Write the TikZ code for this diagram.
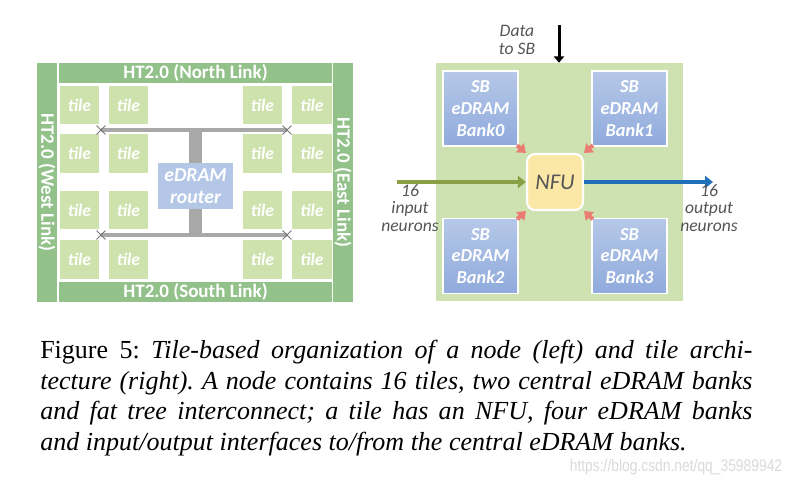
\documentclass[tikz,border=0pt]{standalone}
\usepackage{fontspec}
\setmainfont{Liberation Serif}
\newfontfamily\calib{Carlito}
\newfontfamily\wmfont{Liberation Sans}
\usetikzlibrary{arrows.meta,positioning,shapes.misc}

\definecolor{linkgreen}{RGB}{146,193,138}
\definecolor{tilegreen}{RGB}{205,226,173}
\definecolor{routerblue}{RGB}{180,199,231}
\definecolor{busgray}{RGB}{168,168,168}
\definecolor{bggreen}{RGB}{205,226,176}
\definecolor{banktop}{RGB}{182,200,232}
\definecolor{bankbot}{RGB}{143,170,220}
\definecolor{nfuyellow}{RGB}{251,231,166}
\definecolor{pinkarr}{RGB}{234,124,114}
\definecolor{ingreen}{RGB}{137,160,70}
\definecolor{outblue}{RGB}{31,112,184}
\definecolor{labgray}{RGB}{85,85,85}

\begin{document}
\begin{tikzpicture}[x=0.025cm, y=-0.025cm,
    linkbox/.style={fill=linkgreen, inner sep=0, minimum height=0.5cm, text=white,
      font={\calib\bfseries\fontsize{13.5}{15}\selectfont}},
    tilebox/.style={fill=tilegreen, inner sep=0, minimum width=0.975cm, minimum height=0.96cm,
      text=white, font={\calib\bfseries\itshape\fontsize{12.5}{14}\selectfont}},
    bus/.style={busgray, line width=0.1cm},
    stem/.style={busgray, line width=0.325cm},
    busend/.style={draw=busgray!70!black, cross out, line width=0.7pt, minimum size=0.2cm, inner sep=0},
    bank/.style={top color=banktop, bottom color=bankbot, draw=white, line width=1.2pt,
      minimum width=1.875cm, minimum height=1.875cm, inner sep=0, align=center, text=white,
      font={\calib\bfseries\itshape\fontsize{13}{15.4}\selectfont}},
    nfu/.style={fill=nfuyellow, draw=white, line width=1.5pt, rounded corners=0.2cm,
      minimum size=1.4cm, inner sep=0, text=labgray, font={\calib\itshape\fontsize{16}{18}\selectfont}},
    lab/.style={align=center, inner sep=0, text=labgray,
      font={\calib\itshape\fontsize{12.5}{12.6}\selectfont}},
    pinkarrow/.style={pinkarr, line width=0.1cm, shorten <=-0.06cm,
      -{Triangle[length=0.2cm, width=0.29cm]}},
  ]
  \fill[white] (0,0) rectangle (797,488);
  \useasboundingbox (0,0) rectangle (797,488);

  % node: links round the tiles
  \node[linkbox, minimum width=6.825cm] (north) at (195.5,73) {HT2.0 (North Link)};
  \node[linkbox, minimum width=6.825cm] (south) at (195.5,291.5) {HT2.0 (South Link)};
  \node[linkbox, minimum width=5.975cm, rotate=-90] (west) at (47,182.5) {HT2.0 (West Link)};
  \node[linkbox, minimum width=5.975cm, rotate=-90] (east) at (343,182.5) {HT2.0 (East Link)};

  \foreach \c/\x in {1/79.5,2/128.5,3/262.5,4/312}
    \foreach \r/\y in {1/105,2/153.5,3/210,4/259.5}
      \node[tilebox] (tile-\r-\c) at (\x,\y) {tile};

  \node[fill=routerblue, inner sep=0, minimum width=1.875cm, minimum height=1.15cm, align=center,
    text=white, font={\calib\bfseries\itshape\fontsize{14}{15.6}\selectfont}] (router) at (195.5,186) {eDRAM\\router};

  \coordinate (bus-tl) at (101,130);
  \coordinate (bus-tr) at (287,130);
  \coordinate (bus-bl) at (101,235);
  \coordinate (bus-br) at (287,235);
  \draw[stem] (router.north) -- (router.north |- bus-tl);
  \draw[stem] (router.south) -- (router.south |- bus-bl);
  \draw[bus] (bus-tl) -- (bus-tr);
  \draw[bus] (bus-bl) -- (bus-br);
  \foreach \p in {bus-tl,bus-tr,bus-bl,bus-br}
    \node[busend] (x-\p) at (\p) {};

  % tile: NFU and SB banks
  \node[fill=bggreen, inner sep=0, minimum width=6.175cm, minimum height=5.95cm] (tilebg) at (559.5,182) {};
  \node[bank] (bank0) at (480.5,108.5) {SB\\eDRAM\\Bank0};
  \node[bank] (bank1) at (629.5,108.5) {SB\\eDRAM\\Bank1};
  \node[bank] (bank2) at (480.5,256) {SB\\eDRAM\\Bank2};
  \node[bank] (bank3) at (629.5,256) {SB\\eDRAM\\Bank3};
  \node[nfu] (nfu) at (555,182) {NFU};

  \draw[pinkarrow] (bank0.south east) -- (nfu.north west);
  \draw[pinkarrow] (bank1.south west) -- (nfu.north east);
  \draw[pinkarrow] (bank2.north east) -- (nfu.south west);
  \draw[pinkarrow] (bank3.north west) -- (nfu.south east);

  \coordinate (inneur) at (397,182);
  \coordinate (outneur) at (713,182);
  \coordinate (datain) at (559,25);
  \draw[ingreen, line width=0.1cm, -{Triangle[length=0.2cm, width=0.3cm]}] (inneur) -- (nfu.west);
  \draw[outblue, line width=0.1cm, -{Triangle[length=0.2cm, width=0.3cm]}] (nfu.east) -- (outneur);
  \draw[black, line width=0.075cm, -{Triangle[length=0.16cm, width=0.26cm]}] (datain) -- (datain |- tilebg.north);

  \node[lab] (datalab) at (517,40) {Data\\to SB};
  \node[lab] (inlab) at (410,208) {16\\input\\neurons};
  \node[lab] (outlab) at (709,208) {16\\output\\neurons};

  % caption
  \node[anchor=north west, text width=17.8cm, align=justify, inner sep=0,
    font={\frenchspacing\fontsize{18.5}{21.8}\selectfont}] (caption) at (40,340)
    {Figure 5: \textit{Tile-based organization of a node (left) and tile archi-\linebreak
    tecture (right). A node contains 16 tiles, two central eDRAM banks\linebreak
    and fat tree interconnect; a tile has an NFU, four eDRAM banks\linebreak
    and input/output interfaces to/from the central eDRAM banks.}};
  \node[text={rgb,255:red,218;green,218;blue,218}, inner sep=0, font={\wmfont\fontsize{12}{14}\selectfont}]
    (wmark) at (676,467) {\scalebox{0.82}[1]{https://blog.csdn.net/qq\_35989942}};
\end{tikzpicture}
\end{document}
